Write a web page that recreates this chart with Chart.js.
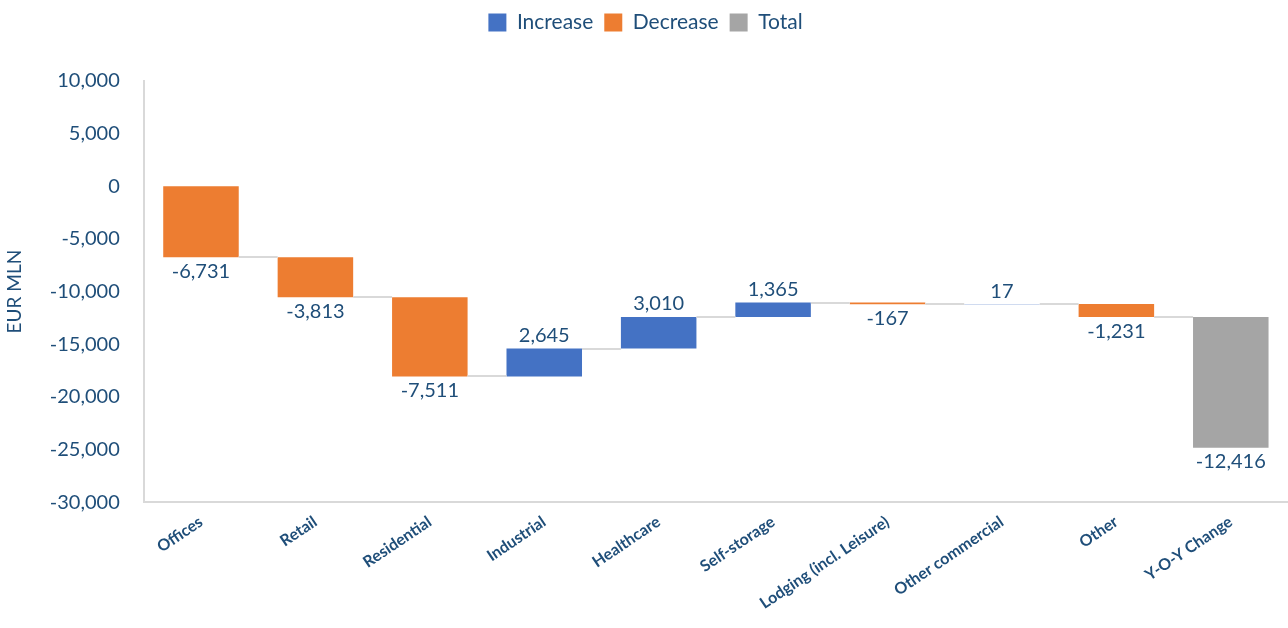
<!DOCTYPE html>
<html>
<head>
<meta charset="utf-8">
<script src="https://cdn.jsdelivr.net/npm/chart.js@4"></script>
<style>
  html, body { margin: 0; padding: 0; background: #fff; }
  #wrap { width: 1288px; height: 628px; position: relative; }
</style>
</head>
<body>
<div id="wrap"><canvas id="waterfall"></canvas></div>
<script>
// categories and values
const categories = ['Offices', 'Retail', 'Residential', 'Industrial', 'Healthcare',
    'Self-storage', 'Lodging (incl. Leisure)', 'Other commercial', 'Other', 'Y-O-Y Change'];
const changes = [-6731, -3813, -7511, 2645, 3010, 1365, -167, 17, -1231];
const totalValue = -12416;
const totalBarBottom = -24832;   // where the grey bar ends in the picture
const yTicks = { min: -30000, max: 10000, step: 5000 };

const textColor = '#1F4E79';
const colors = { up: '#4472C4', down: '#ED7D31', total: '#A5A5A5' };
const fontFamily = 'Lato, "Open Sans", sans-serif';

// running totals -> floating bars
const starts = [];
const ends = [];
let run = 0;
changes.forEach(v => { starts.push(run); run += v; ends.push(run); });

const incData = categories.map((c, i) => i < changes.length && changes[i] >= 0 ? [starts[i], ends[i]] : null);
const decData = categories.map((c, i) => i < changes.length && changes[i] < 0 ? [starts[i], ends[i]] : null);
const totData = categories.map((c, i) => i === changes.length ? [totalValue, totalBarBottom] : null);
const labelValues = changes.concat([totalValue]);

// more room under the legend
const legendSpacing = {
    id: 'legendSpacing',
    beforeInit(chart) {
        const fit = chart.legend.fit;
        chart.legend.fit = function () {
            fit.bind(chart.legend)();
            this.height += 38;
        };
    }
};

// connector lines + value labels
const waterfallExtras = {
    id: 'waterfallExtras',
    afterDatasetsDraw(chart) {
        const ctx = chart.ctx;
        const y = chart.scales.y;
        const metas = [0, 1, 2].map(i => chart.getDatasetMeta(i));
        const barAt = i => {
            for (const m of metas) {
                if (m.data[i] && chart.data.datasets[m.index].data[i] !== null) return m.data[i];
            }
            return null;
        };
        ctx.save();
        // connectors
        ctx.strokeStyle = '#D9D9D9';
        ctx.lineWidth = 2;
        for (let i = 0; i < categories.length - 1; i++) {
            const a = barAt(i), b = barAt(i + 1);
            const level = i < changes.length ? ends[i] : totalValue;
            const py = Math.round(y.getPixelForValue(level));
            ctx.beginPath();
            ctx.moveTo(a.x + a.width / 2, py);
            ctx.lineTo(b.x - b.width / 2, py);
            ctx.stroke();
        }
        // labels
        ctx.fillStyle = textColor;
        ctx.font = '20px ' + fontFamily;
        ctx.textAlign = 'center';
        for (let i = 0; i < categories.length; i++) {
            const bar = barAt(i);
            const v = labelValues[i];
            const top = Math.min(bar.y, bar.base);
            const bottom = Math.max(bar.y, bar.base);
            if (v >= 0) {
                ctx.textBaseline = 'bottom';
                ctx.fillText(v.toLocaleString('en-US'), bar.x, top - 3);
            } else {
                ctx.textBaseline = 'top';
                ctx.fillText(v.toLocaleString('en-US'), bar.x, bottom + 4);
            }
        }
        ctx.restore();
    }
};

new Chart(document.getElementById('waterfall'), {
    type: 'bar',
    data: {
        labels: categories,
        datasets: [
            { label: 'Increase', data: incData, backgroundColor: colors.up, barPercentage: 0.66, categoryPercentage: 1 },
            { label: 'Decrease', data: decData, backgroundColor: colors.down, barPercentage: 0.66, categoryPercentage: 1 },
            { label: 'Total', data: totData, backgroundColor: colors.total, barPercentage: 0.66, categoryPercentage: 1 }
        ]
    },
    options: {
        responsive: true,
        maintainAspectRatio: false,
        animation: false,
        layout: { padding: { top: 1, right: 0, left: 3, bottom: 13 } },
        plugins: {
            legend: {
                position: 'top',
                labels: {
                    color: textColor,
                    font: { size: 21, family: fontFamily },
                    boxWidth: 18,
                    boxHeight: 18,
                    padding: 11
                }
            },
            tooltip: { enabled: false }
        },
        scales: {
            x: {
                stacked: true,
                grid: { display: false },
                border: { color: '#D9D9D9', width: 2 },
                ticks: {
                    color: textColor,
                    font: { size: 16, weight: 'bold', family: fontFamily },
                    minRotation: 34,
                    maxRotation: 34,
                    autoSkip: false,
                    padding: 2
                }
            },
            y: {
                min: yTicks.min,
                max: yTicks.max,
                grid: { display: false },
                border: { color: '#D9D9D9', width: 2 },
                ticks: {
                    stepSize: yTicks.step,
                    color: textColor,
                    padding: 16,
                    font: { size: 20, family: fontFamily },
                    callback: v => v.toLocaleString('en-US')
                },
                title: {
                    display: true,
                    text: 'EUR MLN',
                    color: textColor,
                    font: { size: 19, family: fontFamily },
                    padding: { top: 0, bottom: 8 }
                }
            }
        }
    },
    plugins: [legendSpacing, waterfallExtras]
});
</script>
</body>
</html>
